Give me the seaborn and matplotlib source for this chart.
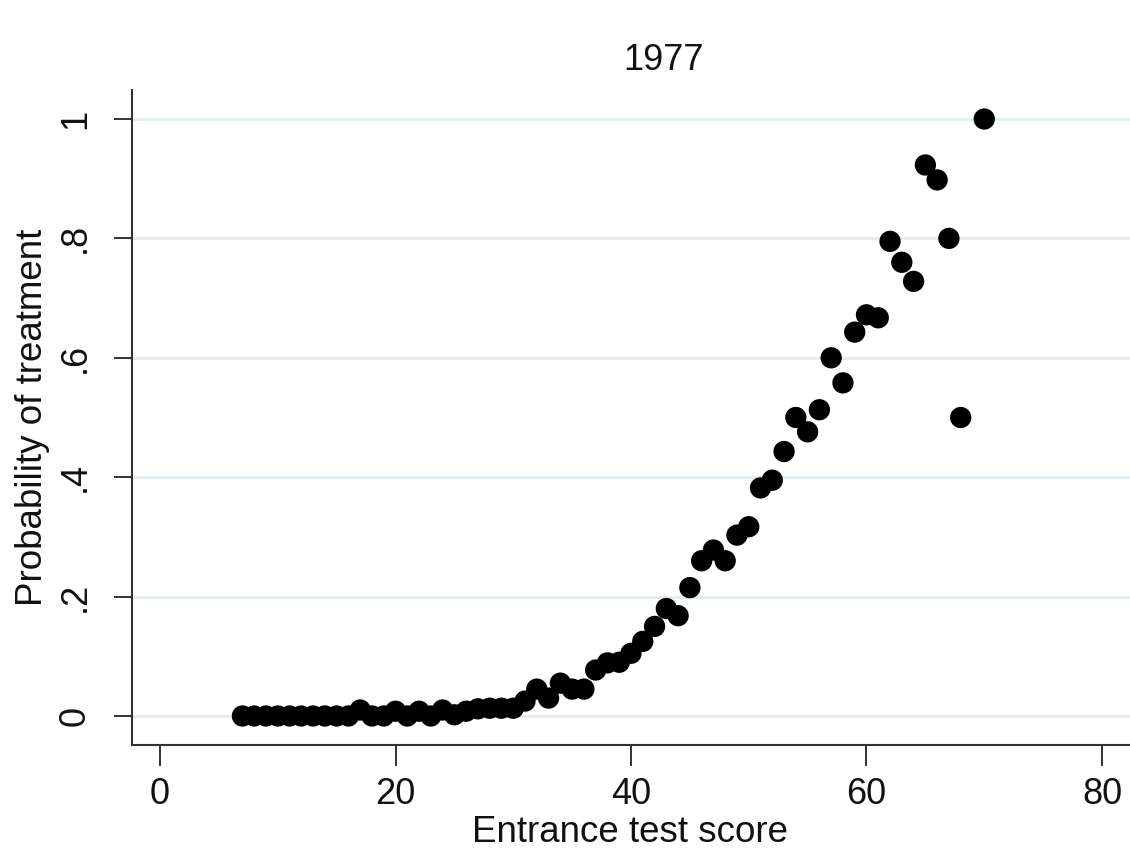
import matplotlib
matplotlib.use("Agg")
import matplotlib.pyplot as plt
import seaborn as sns
import pandas as pd

# ---- data ----
scores = [7, 8, 9, 10, 11, 12, 13, 14, 15, 16,
          17, 18, 19, 20, 21, 22, 23, 24, 25, 26,
          27, 28, 29, 30, 31, 32, 33, 34, 35, 36,
          37, 38, 39, 40, 41, 42, 43, 44, 45, 46,
          47, 48, 49, 50, 51, 52, 53, 54, 55, 56,
          57, 58, 59, 60, 61, 62, 63, 64, 65, 66,
          67, 68, 70]
prob_treat = [0.0, 0.0, 0.0, 0.0, 0.0, 0.0, 0.0, 0.0, 0.0, 0.0,
              0.010, 0.0, 0.0, 0.008, 0.0, 0.008, 0.0, 0.010, 0.002, 0.008,
              0.012, 0.013, 0.013, 0.013, 0.025, 0.045, 0.030, 0.055, 0.045, 0.045,
              0.077, 0.089, 0.090, 0.105, 0.125, 0.150, 0.180, 0.168, 0.215, 0.260,
              0.278, 0.260, 0.303, 0.317, 0.382, 0.395, 0.443, 0.500, 0.476, 0.513,
              0.600, 0.558, 0.643, 0.672, 0.667, 0.795, 0.760, 0.728, 0.923, 0.898,
              0.800, 0.500, 1.000]
x_ticks = [0, 20, 40, 60, 80]
x_tick_labels = ["0", "20", "40", "60", "80"]
y_ticks = [0, 0.2, 0.4, 0.6, 0.8, 1.0]
y_tick_labels = ["0", ".2", ".4", ".6", ".8", "1"]
title_text = "1977"
x_label = "Entrance test score"
y_label = "Probability of treatment"

df = pd.DataFrame({"score": scores, "prob": prob_treat})

sns.set_style("white")
plt.rcParams["font.family"] = ["Liberation Sans", "DejaVu Sans"]

W, H = 1130, 859
fig = plt.figure(figsize=(W / 100, H / 100), dpi=100)
fig.patch.set_facecolor("white")
ax = fig.add_axes([132 / W, (H - 745) / H, 1 - 132 / W, (745 - 90) / H])

for yv in y_ticks:
    ax.axhline(yv, color="#e4edf0", lw=2.2, zorder=0)

sns.scatterplot(data=df, x="score", y="prob", ax=ax, s=235, color="black",
                edgecolor="none", linewidth=0, zorder=3, legend=False)

ax.set_xlim(-2.38, 82.38)
ax.set_ylim(-0.0486, 1.0486)
ax.set_xticks(x_ticks)
ax.set_xticklabels(x_tick_labels)
ax.set_yticks(y_ticks)
ax.set_yticklabels(y_tick_labels, rotation=90, va="center")
ax.set_xlabel("")
ax.set_ylabel("")

for side in ["top", "right"]:
    ax.spines[side].set_visible(False)
for side in ["left", "bottom"]:
    ax.spines[side].set_color("#333333")
    ax.spines[side].set_linewidth(1.5)

ax.tick_params(axis="x", bottom=True, length=15, width=1.4, color="#333333", pad=8,
               labelsize=26, labelcolor="#111111", direction="out")
ax.tick_params(axis="y", left=True, length=13, width=1.4, color="#333333", pad=15,
               labelsize=26, labelcolor="#111111", direction="out")

fig.text(664 / W, 1 - 61 / H, title_text, ha="center", va="center",
         fontsize=26, color="#111111")
fig.text(630 / W, 1 - 833 / H, x_label, ha="center", va="center",
         fontsize=26.5, color="#111111")
fig.text(33 / W, 1 - 417 / H, y_label, ha="center", va="center",
         rotation=90, fontsize=26.5, color="#111111")

fig.savefig("out.png", dpi=100, facecolor="white")
